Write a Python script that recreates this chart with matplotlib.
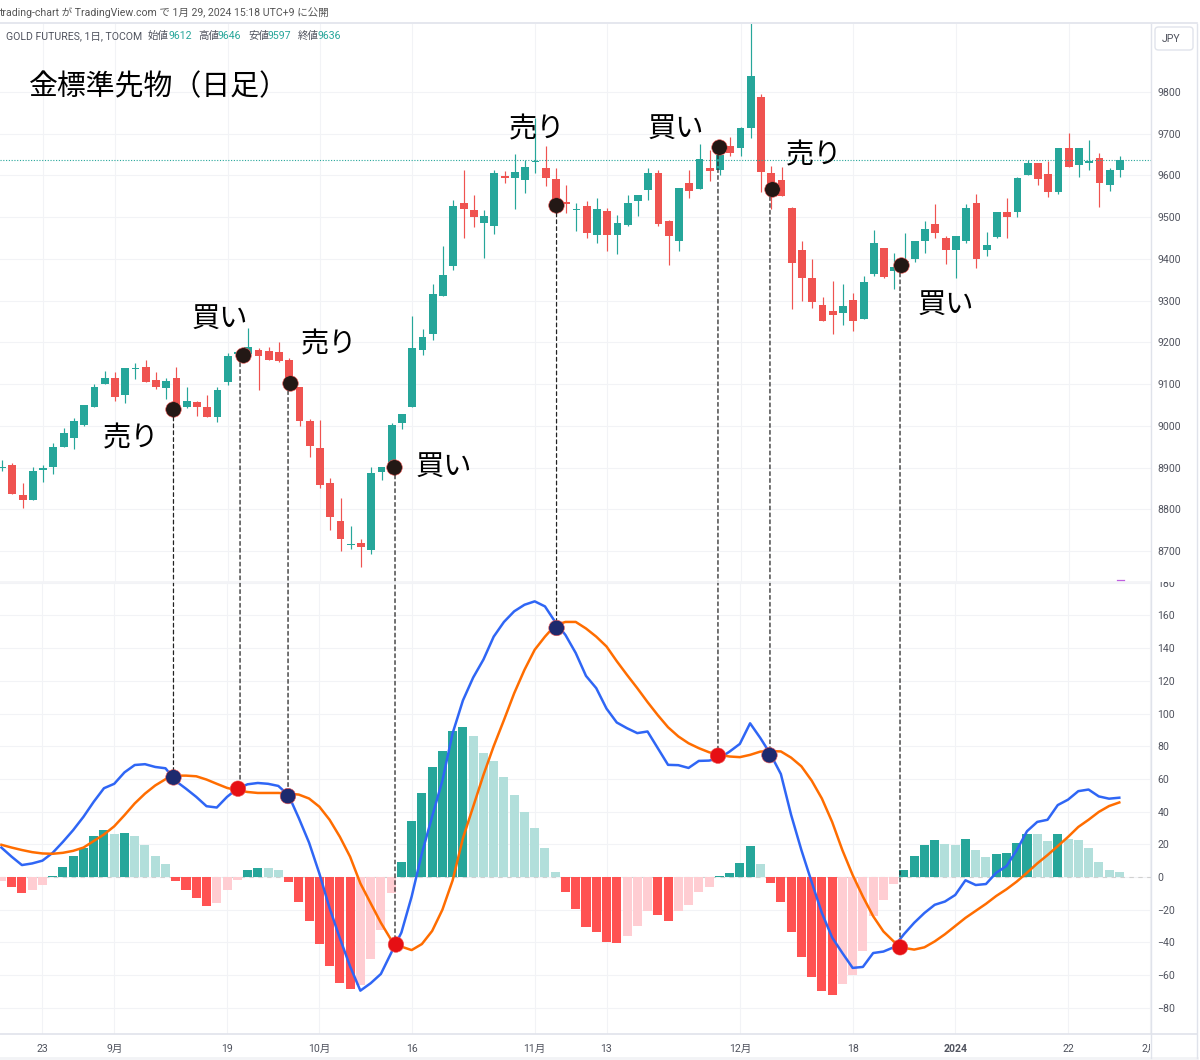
import matplotlib
matplotlib.use('Agg')
import matplotlib.pyplot as plt
import numpy as np
from matplotlib.lines import Line2D
from matplotlib.patches import ConnectionPatch, FancyBboxPatch
from matplotlib.transforms import Bbox

plt.rcParams['font.family'] = ['Roboto', 'Noto Sans CJK JP', 'DejaVu Sans']

# daily candles, one value per bar
opens = [8898, 8906, 8835, 8823, 8893, 8902, 8950, 8971, 9002, 9046,
         9100, 9114, 9074, 9136, 9140, 9110, 9090, 9114, 9046, 9058,
         9045, 9020, 9105, 9172, 9172, 9182, 9180, 9176, 9157, 9092,
         9011, 8947, 8862, 8772, 8714, 8719, 8703, 8889, 8900, 9007,
         9045, 9181, 9221, 9310, 9382, 9534, 9518, 9487, 9479, 9598,
         9595, 9589, 9632, 9617, 9591, 9536, 9517, 9526, 9458, 9515,
         9458, 9482, 9538, 9566, 9606, 9491, 9442, 9583, 9568, 9619,
         9613, 9670, 9665, 9714, 9788, 9607, 9588, 9521, 9421, 9354,
         9289, 9276, 9271, 9302, 9257, 9363, 9425, 9371, 9380, 9401,
         9444, 9484, 9450, 9421, 9443, 9535, 9422, 9453, 9513, 9513,
         9602, 9631, 9603, 9560, 9665, 9624, 9630, 9642, 9577, 9612]
highs = [8918, 8910, 8862, 8902, 8906, 8958, 8994, 9018, 9051, 9100,
         9132, 9128, 9138, 9150, 9158, 9128, 9114, 9142, 9093, 9060,
         9074, 9092, 9174, 9182, 9234, 9186, 9188, 9202, 9163, 9092,
         9016, 9014, 8876, 8826, 8759, 8730, 8902, 8901, 9006, 9029,
         9264, 9232, 9341, 9430, 9540, 9612, 9554, 9518, 9614, 9610,
         9652, 9638, 9738, 9670, 9618, 9576, 9534, 9538, 9545, 9522,
         9506, 9554, 9553, 9617, 9612, 9494, 9570, 9612, 9676, 9660,
         9670, 9693, 9716, 9980, 9795, 9622, 9621, 9525, 9444, 9399,
         9308, 9346, 9339, 9319, 9358, 9469, 9426, 9415, 9463, 9442,
         9492, 9532, 9455, 9456, 9532, 9555, 9464, 9513, 9547, 9597,
         9638, 9631, 9634, 9667, 9702, 9665, 9686, 9654, 9618, 9646]
lows = [8892, 8836, 8802, 8823, 8866, 8885, 8950, 8944, 9000, 9046,
        9100, 9060, 9054, 9112, 9105, 9088, 9064, 9040, 9042, 9024,
        9020, 9010, 9098, 9168, 9172, 9086, 9158, 9152, 9095, 9000,
        8925, 8851, 8750, 8700, 8706, 8662, 8694, 8870, 8898, 8993,
        9045, 9170, 9206, 9310, 9373, 9450, 9477, 9403, 9459, 9581,
        9519, 9558, 9605, 9574, 9510, 9510, 9466, 9450, 9437, 9420,
        9411, 9478, 9502, 9540, 9478, 9385, 9420, 9546, 9568, 9586,
        9602, 9646, 9646, 9690, 9561, 9519, 9550, 9281, 9299, 9283,
        9252, 9219, 9242, 9227, 9257, 9359, 9355, 9327, 9375, 9393,
        9415, 9449, 9387, 9355, 9437, 9378, 9406, 9451, 9450, 9500,
        9602, 9577, 9548, 9556, 9621, 9596, 9614, 9524, 9562, 9597]
closes = [8900, 8836, 8822, 8892, 8898, 8950, 8982, 9011, 9051, 9094,
          9114, 9070, 9138, 9138, 9105, 9092, 9108, 9044, 9059, 9044,
          9020, 9087, 9167, 9178, 9188, 9168, 9158, 9155, 9100, 9012,
          8952, 8858, 8781, 8728, 8716, 8710, 8886, 8901, 9003, 9029,
          9187, 9214, 9316, 9361, 9527, 9519, 9500, 9504, 9606, 9595,
          9608, 9620, 9634, 9595, 9530, 9532, 9519, 9462, 9519, 9458,
          9485, 9534, 9553, 9606, 9483, 9454, 9570, 9562, 9640, 9610,
          9650, 9654, 9713, 9838, 9609, 9570, 9550, 9391, 9354, 9297,
          9252, 9265, 9286, 9252, 9344, 9437, 9357, 9381, 9395, 9442,
          9471, 9463, 9421, 9456, 9523, 9401, 9433, 9513, 9500, 9594,
          9629, 9591, 9560, 9667, 9621, 9665, 9634, 9581, 9612, 9636]

# MACD panel
hist = [-2.5, -6, -10, -8, -5, 0.5, 6, 12.6, 18, 25,
        29, 26.6, 27, 25, 19.5, 12.6, 7.7, -2.5, -8, -12.6,
        -17.5, -16, -8, -2, 4, 5.5, 5.5, 4, -3, -15,
        -27, -41, -54.5, -65, -68.5, -66, -50, -32.5, -10, 9.3,
        34, 51.4, 67, 77, 89, 92, 86, 76, 71, 61,
        50, 40, 30, 17.5, 3.3, -9.4, -19.6, -30.4, -33.7, -39.8,
        -40.2, -36, -30, -21, -23.5, -26.7, -21, -17, -9, -6,
        0.4, 2.2, 8.4, 19, 7.7, -3.5, -15, -33.6, -49, -61,
        -70, -72, -65.5, -60, -45, -24, -13.8, -4, 4, 12.6,
        19.5, 22.7, 20, 19.5, 23.3, 16.4, 12.4, 14.2, 14.6, 20.5,
        26.6, 26.6, 22, 26.6, 23.5, 22.7, 17.6, 9, 4.3, 3]
macd = [18, 12.4, 7.3, 8.3, 10, 14.8, 21.5, 28.7, 36.8, 46,
        54.3, 57, 64, 68.5, 69, 67.3, 66.5, 58.7, 54, 49,
        43.3, 42.5, 49, 54, 56.7, 57.5, 57, 55.7, 50, 36,
        21, 2.2, -19, -37.4, -54.7, -69.5, -65, -59.3, -46.5, -34,
        -12, 14.5, 37, 59, 88, 108, 122, 133, 147, 156,
        162.5, 166.5, 168.6, 165.5, 156, 148, 137, 123, 115.5, 103,
        94.5, 91, 88, 89, 78.8, 68.6, 68.4, 66.7, 71, 71.2,
        72.6, 76.7, 81.4, 94, 85, 75, 63, 38, 16.5, -3,
        -22, -37, -46.5, -55.6, -55, -46.5, -45.6, -43, -35, -28,
        -22, -17, -15, -11, -2, -4.9, -4.3, 2.6, 6.7, 16.4,
        28, 33.7, 35, 44, 47.3, 52.5, 53.5, 49.3, 47.9, 48.5]
signal = [19.7, 18, 16.5, 15.2, 14.4, 14.2, 14.8, 16, 18, 22,
          26, 31, 37.8, 45, 51, 56, 59.8, 62, 62, 61.6,
          59.6, 57, 54.5, 53, 52, 51.4, 51.4, 51.4, 51, 50.4,
          48, 43, 35, 24.6, 12.4, -3.9, -16, -28, -38.4, -42.6,
          -44.7, -41, -33, -20, -2, 23.7, 43, 62.4, 80, 96,
          112.4, 126.7, 139, 147, 154, 156, 156, 152, 147, 141,
          132, 123.6, 115.5, 107, 99, 91.6, 86, 81.8, 78.8, 76.3,
          74.7, 73.7, 73.3, 74.7, 76.7, 77, 76.8, 73, 67.7, 59,
          48, 33.7, 16.4, 1.2, -12, -24, -33.3, -39.4, -43.4, -44.4,
          -43, -39.4, -35, -30, -25, -20.7, -16.4, -11.6, -7.5, -2.8,
          2.6, 8.3, 13.4, 18.9, 24.5, 30.6, 35, 39.8, 43.4, 45.6]

# the signal markers drawn by the author
price_dot_x = [16.71, 23.49, 28.07, 38.26, 54.05, 69.9, 75.07, 87.65]
price_dot_y = [9040, 9170, 9103, 8901, 9529, 9668, 9568, 9385]
macd_dot_x = [16.78, 23.07, 27.94, 38.47, 54.13, 69.87, 74.89, 87.62]
macd_dot_y = [60.9, 54, 49.5, -41.3, 152.3, 74.2, 74.5, -43]
line_x = [16.71, 23.2, 27.88, 38.31, 54.06, 69.8, 74.87, 87.55]

label_text = ['売り', '買い', '売り', '買い', '売り', '買い', '売り', '買い']
label_x = [103, 192, 301, 416, 509, 648, 786, 918]
label_y = [438, 319, 344, 467, 129, 129, 155, 305]

price_ticks = [8700, 8800, 8900, 9000, 9100, 9200, 9300, 9400, 9500, 9600, 9700, 9800]
macd_ticks = [-80, -60, -40, -20, 0, 20, 40, 60, 80, 100, 120, 140, 160, 180]
time_ticks = [4, 11, 22, 31, 40, 52, 59, 72, 83, 93, 104, 112]
time_labels = ['23', '9月', '19', '10月', '16', '11月', '13', '12月', '18', '2024', '22', '2月']
last_price = 9636

TEAL = '#26a69a'
RED = '#ef5350'
GRID = '#f2f3f6'
BORDER = '#e0e3eb'
TEXT = '#50535e'
W, H = 1200, 1060
BAR_DX = 10.256


def fx(px):
    return px / W


def fy(py):
    return 1 - py / H


def make_axes(fig, top, bottom, x0):
    # x0 is the pixel position of bar 0, the two panes sit about a pixel apart
    ax = fig.add_axes([0, fy(bottom), fx(1151), (bottom - top) / H])
    ax.set_xlim(-x0 / BAR_DX, (1151 - x0) / BAR_DX)
    for s in ax.spines.values():
        s.set_visible(False)
    ax.grid(True, color=GRID, linewidth=0.8)
    ax.set_axisbelow(True)
    ax.set_xticks(time_ticks)
    ax.yaxis.tick_right()
    ax.tick_params(axis='y', length=0, pad=4.5, labelsize=7.6, labelcolor=TEXT)
    ax.tick_params(axis='x', length=0, labelbottom=False)
    return ax


def hline_fig(fig, x1, x2, y, color=BORDER, lw=1.2):
    fig.add_artist(Line2D([fx(x1), fx(x2)], [fy(y), fy(y)], color=color, lw=lw))


def vline_fig(fig, x, y1, y2, color=BORDER, lw=1.0):
    fig.add_artist(Line2D([fx(x), fx(x)], [fy(y1), fy(y2)], color=color, lw=lw))


fig = plt.figure(figsize=(W / 100, H / 100), dpi=100, facecolor='white')

# price pane
ax_price = make_axes(fig, 24, 582, 2.1)
ax_price.set_ylim(9800 - (582 - 92) / 0.4173, 9800 + (92 - 24) / 0.4173)
ax_price.set_yticks(price_ticks)

idx = np.arange(len(closes))
o = np.array(opens)
c = np.array(closes)
candle_colors = [TEAL if b >= a else RED for a, b in zip(opens, closes)]
ax_price.vlines(idx, lows, highs, colors=candle_colors, linewidth=0.85, zorder=3)
body_h = np.maximum(np.abs(c - o), 2.5)
ax_price.bar(idx, body_h, bottom=np.minimum(o, c), width=0.76, color=candle_colors, zorder=4)
ax_price.axhline(last_price, color=TEAL, linewidth=0.8, linestyle=(0, (1, 1.5)), zorder=5)
ax_price.scatter(price_dot_x, price_dot_y, s=125, c='#231815', edgecolors='#ef5350',
                 linewidths=0.4, zorder=6)

# macd pane
ax_macd = make_axes(fig, 582, 1034, 1.4)
ax_macd.set_ylim((877 - 1034) / 1.635, (877 - 582) / 1.635)
ax_macd.set_yticks(macd_ticks)
ax_macd.set_yticklabels([str(t).replace('-', '\u2212') for t in macd_ticks])

hist_colors = []
prev = hist[0]
for v in hist:
    if v >= 0:
        hist_colors.append('#26a69a' if v > prev else '#b2dfdb')
    else:
        hist_colors.append('#ff5252' if v < prev else '#ffcdd2')
    prev = v
ax_macd.axhline(0, color='#d0d0d0', linewidth=0.8, linestyle=(0, (4, 4)), zorder=1)
ax_macd.bar(idx, hist, width=0.88, color=hist_colors, zorder=2)
ax_macd.plot(idx, macd, color='#2f66f5', linewidth=1.8, zorder=3)
ax_macd.plot(idx, signal, color='#ff6d00', linewidth=1.8, zorder=4)
dot_colors = ['#1d2a6e', '#e60f14'] * 4
ax_macd.scatter(macd_dot_x, macd_dot_y, s=125, c=dot_colors, edgecolors='#ef5350',
                linewidths=0.4, zorder=6)

# time axis sits under the macd pane
ax_macd.tick_params(axis='x', labelbottom=True, labelsize=7.6, labelcolor=TEXT, pad=7)
ax_macd.set_xticklabels(time_labels)
ax_macd.get_xticklabels()[9].set_fontweight('bold')

clip_t = ax_macd.get_xticklabels()[-1]
clip_t.set_clip_on(True)
clip_t.set_clip_box(Bbox([[0, 0], [1150, H]]))
clip_v = ax_macd.get_yticklabels()[-1]
clip_v.set_clip_on(True)
clip_v.set_clip_box(Bbox([[1151, 0], [W, H - 582]]))

# dashed lines joining each candle marker with the macd cross below it
for i in range(8):
    con = ConnectionPatch(xyA=(line_x[i], price_dot_y[i] - 19), coordsA=ax_price.transData,
                          xyB=(line_x[i] + 0.068, macd_dot_y[i] + 5), coordsB=ax_macd.transData,
                          color='#222222', linewidth=0.9, linestyle=(0, (3, 2.5)))
    fig.add_artist(con)

# frame of the tradingview widget
hline_fig(fig, 0, 1197, 23)
hline_fig(fig, 0, 1151, 582, color=GRID)
hline_fig(fig, 0, 1197, 1034)
hline_fig(fig, 0, 1197, 1058, color=GRID, lw=2)
vline_fig(fig, 1151, 24, 1058)
vline_fig(fig, 1197, 24, 1058)
fig.add_artist(Line2D([fx(1117), fx(1124)], [fy(580), fy(580)], color='#c060e0', lw=0.9))

fig.add_artist(FancyBboxPatch((fx(1155), fy(50)), fx(38), 23 / H, transform=fig.transFigure,
                              boxstyle='round,pad=0,rounding_size=0.003', facecolor='white',
                              edgecolor=BORDER, linewidth=1))
fig.text(fx(1171), fy(39), 'JPY', ha='center', va='center', fontsize=7.6, color=TEXT)

# header texts
fig.text(fx(-1), fy(13), 'trading-chart が TradingView.com で 1月 29, 2024 15:18 UTC+9 に公開',
         ha='left', va='center', fontsize=7.6, color='#555555')
fig.text(fx(6), fy(36), 'GOLD FUTURES, 1日, TOCOM', ha='left', va='center', fontsize=7.55, color=TEXT)
ohlc_names = ['始値', '高値', '安値', '終値']
ohlc_vals = [opens[-1], highs[-1], lows[-1], closes[-1]]
for name, val, nx, vx in zip(ohlc_names, ohlc_vals, [148, 198, 248, 298], [168, 218, 268, 318]):
    fig.text(fx(nx), fy(36), name, ha='left', va='center', fontsize=7.55, color=TEXT)
    fig.text(fx(vx), fy(36), str(val), ha='left', va='center', fontsize=7.55, color=TEAL)

jp_font = ['Noto Sans CJK JP', 'DejaVu Sans']
fig.text(fx(29), fy(87), '金標準先物（日足）', ha='left', va='center', fontsize=20.8,
         color='black', family=jp_font)
for t, x, y in zip(label_text, label_x, label_y):
    fig.text(fx(x), fy(y), t, ha='left', va='center', fontsize=20.3, color='black', family=jp_font)

fig.savefig('out.png', dpi=100)
